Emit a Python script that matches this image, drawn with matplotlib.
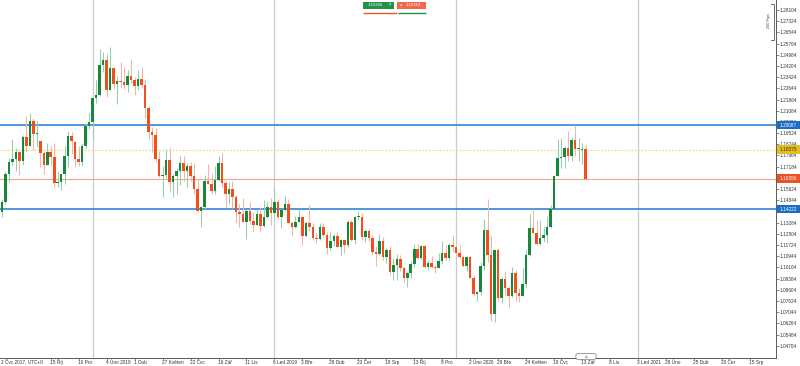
import matplotlib
matplotlib.use("Agg")
import matplotlib.pyplot as plt
from matplotlib.patches import Rectangle, FancyBboxPatch

plt.rcParams['font.family'] = ['Liberation Sans', 'DejaVu Sans']

# ---------------- data: weekly EUR/USD candles (week 0 = 2 Jul 2017) -------------
opens = [1.1425, 1.1400, 1.1470, 1.1665, 1.1750, 1.1775, 1.1820, 1.1760, 1.1923, 1.1860,
         1.2035, 1.1945, 1.1895, 1.1815, 1.1730, 1.1820, 1.1785, 1.1607, 1.1610, 1.1665,
         1.1795, 1.1935, 1.1890, 1.1770, 1.1750, 1.1860, 1.2005, 1.2030, 1.2200, 1.2220,
         1.2425, 1.2460, 1.2250, 1.2405, 1.2295, 1.2315, 1.2310, 1.2290, 1.2350, 1.2320,
         1.2280, 1.2330, 1.2290, 1.2130, 1.1960, 1.1940, 1.1770, 1.1655, 1.1660, 1.1765,
         1.1610, 1.1655, 1.1685, 1.1745, 1.1685, 1.1720, 1.1655, 1.1565, 1.1410, 1.1440,
         1.1620, 1.1600, 1.1550, 1.1625, 1.1745, 1.1605, 1.1525, 1.1560, 1.1510, 1.1400,
         1.1385, 1.1335, 1.1410, 1.1340, 1.1315, 1.1385, 1.1305, 1.1370, 1.1440, 1.1395,
         1.1470, 1.1365, 1.1415, 1.1455, 1.1325, 1.1295, 1.1335, 1.1365, 1.1235, 1.1325,
         1.1300, 1.1220, 1.1215, 1.1300, 1.1245, 1.1150, 1.1200, 1.1235, 1.1160, 1.1205,
         1.1170, 1.1335, 1.1210, 1.1370, 1.1370, 1.1225, 1.1270, 1.1220, 1.1125, 1.1110,
         1.1200, 1.1090, 1.1140, 1.0985, 1.1030, 1.1075, 1.1015, 1.0940, 1.0980, 1.1040,
         1.1145, 1.1080, 1.1165, 1.1020, 1.1050, 1.1020, 1.1015, 1.1060, 1.1120, 1.1080,
         1.1175, 1.1160, 1.1120, 1.1090, 1.1025, 1.1090, 1.0945, 1.0830, 1.0845, 1.1025,
         1.1280, 1.1105, 1.0690, 1.1140, 1.0800, 1.0935, 1.0875, 1.0820, 1.0980, 1.0840,
         1.0820, 1.0900, 1.1100, 1.1290, 1.1255, 1.1180, 1.1220, 1.1245, 1.1300, 1.1425,
         1.1655, 1.1780, 1.1785, 1.1845, 1.1795, 1.1905, 1.1840, 1.1838, 1.1840]
highs = [1.1445, 1.1490, 1.1683, 1.1776, 1.1910, 1.1845, 1.1826, 1.1940, 1.2070, 1.2092,
         1.2060, 1.2034, 1.1900, 1.1830, 1.1880, 1.1860, 1.1880, 1.1690, 1.1670, 1.1860,
         1.1965, 1.1960, 1.1900, 1.1860, 1.1880, 1.2020, 1.2090, 1.2200, 1.2320, 1.2537,
         1.2520, 1.2510, 1.2555, 1.2415, 1.2350, 1.2445, 1.2413, 1.2390, 1.2470, 1.2345,
         1.2395, 1.2415, 1.2330, 1.2140, 1.1995, 1.1990, 1.1830, 1.1720, 1.1840, 1.1850,
         1.1670, 1.1710, 1.1790, 1.1790, 1.1745, 1.1750, 1.1745, 1.1630, 1.1445, 1.1660,
         1.1735, 1.1675, 1.1720, 1.1790, 1.1815, 1.1620, 1.1610, 1.1620, 1.1520, 1.1455,
         1.1500, 1.1420, 1.1470, 1.1400, 1.1420, 1.1440, 1.1485, 1.1480, 1.1500, 1.1570,
         1.1495, 1.1415, 1.1515, 1.1490, 1.1340, 1.1375, 1.1420, 1.1375, 1.1340, 1.1450,
         1.1325, 1.1255, 1.1325, 1.1325, 1.1265, 1.1265, 1.1250, 1.1265, 1.1215, 1.1215,
         1.1345, 1.1350, 1.1375, 1.1412, 1.1395, 1.1285, 1.1285, 1.1240, 1.1165, 1.1250,
         1.1230, 1.1150, 1.1165, 1.1085, 1.1110, 1.1100, 1.1025, 1.0990, 1.1060, 1.1180,
         1.1180, 1.1175, 1.1175, 1.1070, 1.1095, 1.1030, 1.1115, 1.1200, 1.1175, 1.1185,
         1.1240, 1.1170, 1.1175, 1.1100, 1.1095, 1.1095, 1.0960, 1.0850, 1.1055, 1.1355,
         1.1495, 1.1235, 1.1145, 1.1150, 1.0950, 1.0990, 1.0890, 1.1020, 1.1000, 1.0875,
         1.1010, 1.1145, 1.1385, 1.1420, 1.1350, 1.1350, 1.1300, 1.1375, 1.1450, 1.1660,
         1.1910, 1.1915, 1.1865, 1.1965, 1.1920, 1.2011, 1.1915, 1.1885, 1.1870]
lows = [1.1313, 1.1371, 1.1456, 1.1612, 1.1730, 1.1688, 1.1662, 1.1730, 1.1823, 1.1860,
        1.1838, 1.1860, 1.1717, 1.1669, 1.1730, 1.1730, 1.1574, 1.1574, 1.1553, 1.1600,
        1.1715, 1.1810, 1.1717, 1.1720, 1.1725, 1.1850, 1.1980, 1.1915, 1.2165, 1.2210,
        1.2375, 1.2205, 1.2250, 1.2260, 1.2155, 1.2270, 1.2260, 1.2240, 1.2300, 1.2215,
        1.2250, 1.2270, 1.2055, 1.1910, 1.1820, 1.1750, 1.1645, 1.1510, 1.1640, 1.1540,
        1.1505, 1.1530, 1.1590, 1.1615, 1.1575, 1.1615, 1.1530, 1.1405, 1.1301, 1.1420,
        1.1595, 1.1525, 1.1530, 1.1615, 1.1575, 1.1430, 1.1455, 1.1430, 1.1335, 1.1300,
        1.1330, 1.1215, 1.1320, 1.1265, 1.1305, 1.1270, 1.1300, 1.1360, 1.1310, 1.1390,
        1.1355, 1.1290, 1.1410, 1.1325, 1.1235, 1.1290, 1.1335, 1.1175, 1.1230, 1.1270,
        1.1210, 1.1185, 1.1210, 1.1225, 1.1110, 1.1135, 1.1165, 1.1160, 1.1105, 1.1115,
        1.1160, 1.1200, 1.1180, 1.1350, 1.1205, 1.1195, 1.1200, 1.1100, 1.1025, 1.1100,
        1.1065, 1.1050, 1.0965, 1.0925, 1.0925, 1.0990, 1.0905, 1.0880, 1.0940, 1.1020,
        1.1075, 1.1075, 1.1010, 1.1000, 1.1015, 1.0980, 1.1010, 1.1040, 1.1065, 1.1065,
        1.1125, 1.1085, 1.1085, 1.1020, 1.0990, 1.0940, 1.0825, 1.0780, 1.0825, 1.1000,
        1.1055, 1.0640, 1.0635, 1.0780, 1.0770, 1.0815, 1.0730, 1.0810, 1.0780, 1.0775,
        1.0815, 1.0870, 1.1095, 1.1250, 1.1170, 1.1170, 1.1190, 1.1185, 1.1290, 1.1420,
        1.1650, 1.1710, 1.1710, 1.1755, 1.1755, 1.1790, 1.1755, 1.1735, 1.1630]
closes = [1.1400, 1.1470, 1.1665, 1.1750, 1.1775, 1.1820, 1.1760, 1.1923, 1.1860, 1.2035,
          1.1945, 1.1950, 1.1815, 1.1730, 1.1820, 1.1785, 1.1607, 1.1610, 1.1665, 1.1795,
          1.1935, 1.1895, 1.1770, 1.1750, 1.1860, 1.2005, 1.2030, 1.2200, 1.2220, 1.2425,
          1.2460, 1.2250, 1.2405, 1.2295, 1.2315, 1.2310, 1.2290, 1.2350, 1.2320, 1.2280,
          1.2330, 1.2290, 1.2130, 1.1960, 1.1940, 1.1770, 1.1655, 1.1660, 1.1765, 1.1610,
          1.1655, 1.1685, 1.1745, 1.1685, 1.1720, 1.1655, 1.1565, 1.1410, 1.1440, 1.1620,
          1.1600, 1.1550, 1.1625, 1.1745, 1.1605, 1.1525, 1.1560, 1.1510, 1.1400, 1.1385,
          1.1335, 1.1410, 1.1340, 1.1315, 1.1385, 1.1305, 1.1370, 1.1440, 1.1395, 1.1470,
          1.1365, 1.1415, 1.1455, 1.1325, 1.1295, 1.1335, 1.1365, 1.1235, 1.1325, 1.1300,
          1.1220, 1.1215, 1.1300, 1.1245, 1.1150, 1.1200, 1.1235, 1.1160, 1.1205, 1.1170,
          1.1335, 1.1210, 1.1370, 1.1370, 1.1225, 1.1270, 1.1220, 1.1125, 1.1110, 1.1200,
          1.1090, 1.1140, 1.0985, 1.1030, 1.1075, 1.1015, 1.0940, 1.0980, 1.1040, 1.1145,
          1.1080, 1.1165, 1.1020, 1.1050, 1.1020, 1.1015, 1.1060, 1.1120, 1.1080, 1.1175,
          1.1160, 1.1120, 1.1090, 1.1025, 1.1090, 1.0945, 1.0830, 1.0845, 1.1025, 1.1280,
          1.1105, 1.0690, 1.1140, 1.0800, 1.0935, 1.0875, 1.0820, 1.0980, 1.0840, 1.0820,
          1.0900, 1.1100, 1.1290, 1.1255, 1.1180, 1.1220, 1.1245, 1.1300, 1.1425, 1.1655,
          1.1780, 1.1785, 1.1845, 1.1795, 1.1905, 1.1840, 1.1845, 1.1842, 1.1635]

# x-axis labels (week index, text)
xtick_weeks = [0, 15, 23, 31, 39, 47, 55, 63, 71, 79, 87, 95, 103, 111, 119, 127, 135,
               143, 151, 159, 167, 175, 183, 191, 199, 207, 215]
xtick_labels = ["2 Čvc 2017, UTC+0", "15 Říj", "10 Pro", "4 Úno 2018", "1 Dub", "27 Květen",
                "22 Čvc", "16 Zář", "11 Lis", "6 Led 2019", "3 Bře", "28 Dub", "23 Čer",
                "18 Srp", "13 Říj", "8 Pro", "2 Úno 2020", "29 Bře", "24 Květen", "19 Čvc",
                "13 Zář", "8 Lis", "3 Led 2021", "28 Úno", "25 Dub", "20 Čer", "15 Srp"]
year_weeks = [27, 79, 131, 183]

# y-axis labels
ytick_values = [1.28104, 1.27324, 1.26544, 1.25764, 1.24984, 1.24204, 1.23424, 1.22644,
                1.21864, 1.21084, 1.20304, 1.19524, 1.18744, 1.17964, 1.17184, 1.16404,
                1.15624, 1.14844, 1.14064, 1.13284, 1.12504, 1.11724, 1.10944, 1.10164,
                1.09384, 1.08604, 1.07824, 1.07044, 1.06264, 1.05484, 1.04704]
hidden_ylabels = [1.16404, 1.14064]   # covered by the price boxes in the chart

# horizontal levels
blue_levels = [1.20087, 1.14222]
yellow_level = 1.18375
current_price = 1.16356
sell_price = "1.16356"
buy_price = "1.16364"

# ---------------- figure ---------------------------------------------------------
W, H = 800, 366
YMIN, YMAX = 1.03847, 1.28801
XMIN, XMAX = 0.48, 222.5
fig = plt.figure(figsize=(W / 100, H / 100), dpi=100)
fig.patch.set_facecolor("white")
ax = fig.add_axes([0, 8 / H, 776 / W, 358 / H])
ax.set_facecolor("white")
ax.set_xlim(XMIN, XMAX)
ax.set_ylim(YMIN, YMAX)

GREEN_BODY = "#17883b"
GREEN_WICK = "#93d1ab"
RED_BODY = "#f24e1e"
RED_WICK = "#f8b4a3"

for w in year_weeks:
    ax.axvline(w, color="#cbcbcb", lw=0.9, zorder=0)

for lv in blue_levels:
    ax.axhline(lv, color="#2d85d5", lw=1.2, zorder=3)
ax.axhline(yellow_level, color="#f4d98a", lw=0.9, ls=(0, (1.5, 1.2)), zorder=3)
ax.axhline(current_price, color="#f3a48f", lw=0.8, zorder=3)

bw = 0.72
px = (YMAX - YMIN) / 358.0
for i, (o, h, l, c) in enumerate(zip(opens, highs, lows, closes)):
    up = c >= o
    ax.vlines(i, l, h, color=GREEN_WICK if up else RED_WICK, lw=0.75, zorder=4)
    bot = min(o, c)
    hgt = max(abs(c - o), px)
    ax.add_patch(Rectangle((i - bw / 2, bot), bw, hgt, facecolor=GREEN_BODY if up else RED_BODY,
                           edgecolor="none", zorder=5))

for s in ["left", "top"]:
    ax.spines[s].set_visible(False)
for s in ["right", "bottom"]:
    ax.spines[s].set_color("#5a5a5a")
    ax.spines[s].set_linewidth(0.7)

ax.yaxis.tick_right()
ax.set_yticks(ytick_values)
ax.set_yticklabels(["" if v in hidden_ylabels else f"{v:.5f}" for v in ytick_values])
ax.tick_params(axis="y", direction="out", length=2, width=0.5, colors="#5a5a5a",
               labelsize=3.4, labelcolor="#333333", pad=0.8)

ax.set_xticks(xtick_weeks[1:])
ax.set_xticklabels([])
ax.tick_params(axis="x", direction="out", length=1.2, width=0.5, colors="#5a5a5a")

# overlay in pixel coordinates
ov = fig.add_axes([0, 0, 1, 1], zorder=10)
ov.set_xlim(0, W)
ov.set_ylim(H, 0)
ov.axis("off")
ov.patch.set_alpha(0)

def wk_to_px(w):
    return (w - XMIN) * 776.0 / (XMAX - XMIN)

def price_to_px(p):
    return (YMAX - p) * 358.0 / (YMAX - YMIN)

for w, lab in zip(xtick_weeks, xtick_labels):
    xp = max(wk_to_px(w) - 1.0, 1.0)
    ov.text(xp, 363.6, lab, fontsize=3.4, color="#333333", ha="left", va="baseline")

def price_box(value, face, tcolor):
    y = price_to_px(value)
    ov.add_patch(Rectangle((777, y - 4.2), 23, 8.4, facecolor=face, edgecolor="none", zorder=20))
    ov.text(788.5, y, f"{value:.5f}", fontsize=3.4, color=tcolor, ha="center", va="center",
            zorder=21)

price_box(blue_levels[0], "#1b6ec2", "white")
price_box(yellow_level, "#e4bd22", "#3a3000")
price_box(current_price, "#ea5225", "white")
price_box(blue_levels[1], "#1b6ec2", "white")

# top sell / buy buttons
ov.add_patch(Rectangle((363, 1.8), 30.5, 6.8, facecolor="#21924a", edgecolor="none"))
ov.text(375.5, 5.3, sell_price, fontsize=3.1, color="white", ha="center", va="center")
ov.text(389.5, 5.2, "↗", fontsize=3.1, color="white", ha="center", va="center",
        family="DejaVu Sans")
ov.add_patch(Rectangle((396.8, 1.8), 29.4, 6.8, facecolor="#f2694a", edgecolor="none"))
ov.text(400.6, 5.2, "↘", fontsize=3.1, color="white", ha="center", va="center",
        family="DejaVu Sans")
ov.text(413.5, 5.3, buy_price, fontsize=3.1, color="white", ha="center", va="center")
ov.plot([363, 397], [13.3, 13.3], color="#ef5326", lw=1.0, solid_capstyle="butt")
ov.plot([398, 426], [13.3, 13.3], color="#21924a", lw=1.0, solid_capstyle="butt")

# 200 pips ruler
ov.plot([771, 773.5, 773.5, 771], [4, 4, 40, 40], color="#555555", lw=0.6)
ov.text(769.3, 21, "200 Pips", fontsize=2.8, color="#444444", rotation=90,
        ha="center", va="center")

# small marker box at bottom axis
ov.add_patch(FancyBboxPatch((576.5, 354.2), 19, 4.6, boxstyle="round,pad=0.6,rounding_size=2",
                            facecolor="white", edgecolor="#777777", lw=0.5, zorder=15))
ov.text(586, 356.5, "⌂", fontsize=3.0, color="#555555", ha="center", va="center",
        family="DejaVu Sans", zorder=16)

fig.savefig("out.png", dpi=100, facecolor="white")
